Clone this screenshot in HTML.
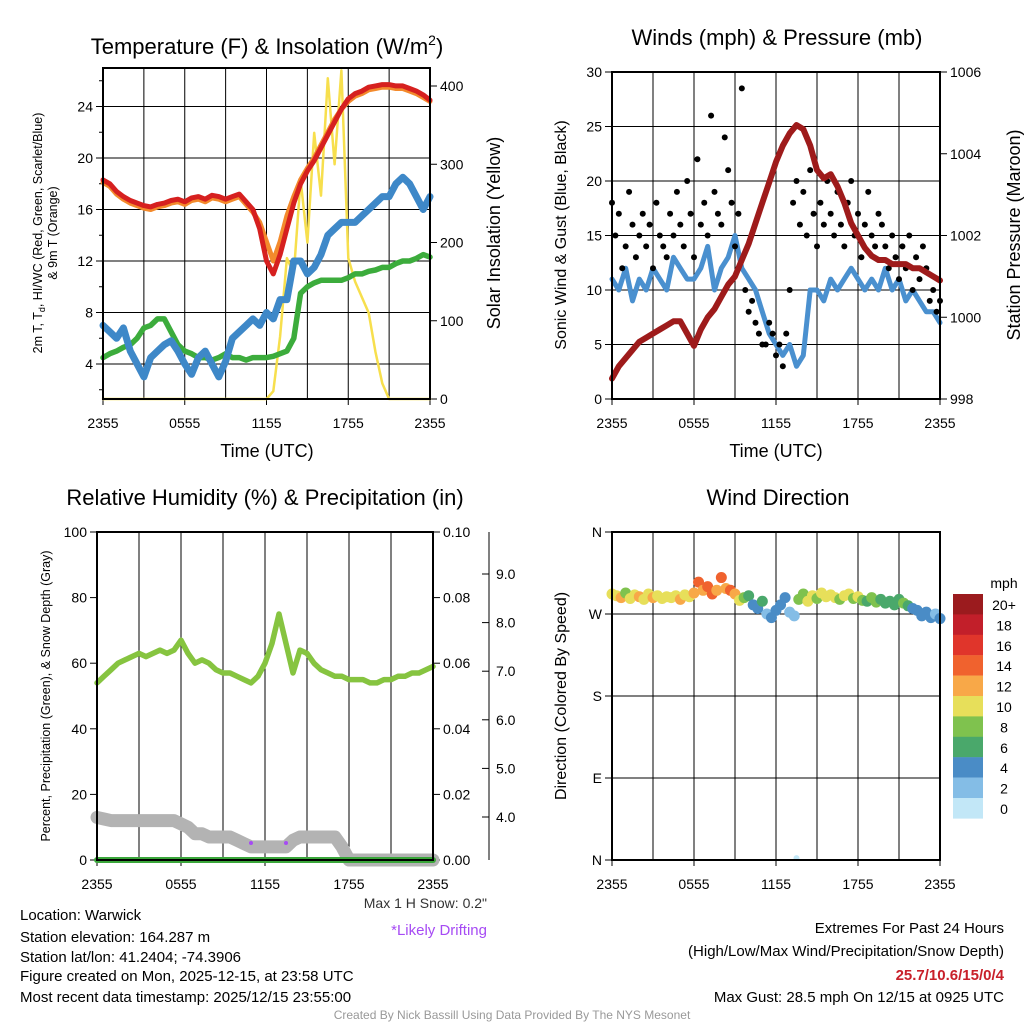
<!DOCTYPE html>
<html><head><meta charset="utf-8"><style>
html,body{margin:0;padding:0;background:#fff}
svg{display:block;font-family:"Liberation Sans",sans-serif}
</style></head><body>
<svg id="s" width="1024" height="1024" viewBox="0 0 1024 1024" xmlns="http://www.w3.org/2000/svg">
<rect width="1024" height="1024" fill="#fff"/>
<g id="p1">
<text x="267" y="54" font-size="22" text-anchor="middle">Temperature (F) &amp; Insolation (W/m<tspan font-size="14" dy="-9">2</tspan><tspan dy="9">)</tspan></text>
<text x="267" y="457" font-size="18" text-anchor="middle">Time (UTC)</text>
<text transform="translate(42,233) rotate(-90)" font-size="12.5" text-anchor="middle">2m T, T<tspan font-size="9" dy="3">d</tspan><tspan dy="-3">, HI/WC (Red, Green, Scarlet/Blue)</tspan></text>
<text transform="translate(57,233) rotate(-90)" font-size="12.5" text-anchor="middle">&amp; 9m T (Orange)</text>
<text transform="translate(500,233) rotate(-90)" font-size="18" text-anchor="middle">Solar Insolation (Yellow)</text>
</g>
<g id="p2">
<text x="777" y="45" font-size="22" text-anchor="middle">Winds (mph) &amp; Pressure (mb)</text>
<text x="776" y="457" font-size="18" text-anchor="middle">Time (UTC)</text>
<text transform="translate(566,235) rotate(-90)" font-size="16" text-anchor="middle">Sonic Wind &amp; Gust (Blue, Black)</text>
<text transform="translate(1020,235) rotate(-90)" font-size="18" text-anchor="middle">Station Pressure (Maroon)</text>
</g>
<g id="p3">
<text x="265" y="505" font-size="22" text-anchor="middle">Relative Humidity (%) &amp; Precipitation (in)</text>
<text transform="translate(50,696) rotate(-90)" font-size="12.5" text-anchor="middle">Percent, Precipitation (Green), &amp; Snow Depth (Gray)</text>
<text x="487" y="908" font-size="14" text-anchor="end" fill="#333">Max 1 H Snow: 0.2"</text>
<text x="487" y="935" font-size="15" text-anchor="end" fill="#a64bf4">*Likely Drifting</text>
</g>
<g id="p4">
<text x="778" y="505" font-size="22" text-anchor="middle">Wind Direction</text>
<text transform="translate(566,696) rotate(-90)" font-size="16" text-anchor="middle">Direction (Colored By Speed)</text>
<text x="1004" y="588" font-size="14" text-anchor="middle">mph</text>
</g>
<g font-size="15">
<text x="20" y="920">Location: Warwick</text>
<text x="20" y="942">Station elevation: 164.287 m</text>
<text x="20" y="962">Station lat/lon: 41.2404; -74.3906</text>
<text x="20" y="981">Figure created on Mon, 2025-12-15, at 23:58 UTC</text>
<text x="20" y="1002">Most recent data timestamp: 2025/12/15 23:55:00</text>
<text x="1004" y="933" text-anchor="end">Extremes For Past 24 Hours</text>
<text x="1004" y="956" text-anchor="end">(High/Low/Max Wind/Precipitation/Snow Depth)</text>
<text x="1004" y="980" text-anchor="end" fill="#c8202a" font-weight="bold">25.7/10.6/15/0/4</text>
<text x="1004" y="1002" text-anchor="end">Max Gust: 28.5 mph On 12/15 at 0925 UTC</text>
<text x="512" y="1019" font-size="12" text-anchor="middle" fill="#999">Created By Nick Bassill Using Data Provided By The NYS Mesonet</text>
</g>
</svg>
<script>
// ---- data (half-hourly from 2355 UTC) ----
const xTickLabels = ["2355","0555","1155","1755","2355"];
const tempRed = [18.3,18,17.4,17,16.7,16.5,16.3,16.2,16.4,16.5,16.7,16.8,16.6,16.9,17,16.8,17.1,17,16.8,17,17.2,16.6,16,14.5,12,11,12.5,14.5,16.5,18,19,19.8,20.8,21.8,22.8,23.8,24.6,25,25.2,25.5,25.6,25.7,25.7,25.6,25.6,25.4,25.2,24.9,24.5];
const tempOrange = [18.1,17.8,17.2,16.8,16.5,16.3,16.1,16,16.2,16.3,16.5,16.6,16.4,16.7,16.8,16.6,16.9,16.8,16.6,16.8,17,16.4,15.8,15,13.5,12,13.5,15.5,17,18.3,19.2,20,21,22,23,23.8,24.4,24.8,25,25.3,25.4,25.5,25.5,25.4,25.4,25.2,25,24.7,24.4];
const tempBlue = [7,6.5,6,6.8,5,4,3,4.5,5,5.5,5.8,5,4,3.2,4.5,5,4,3,4.2,6,6.5,7,7.5,7,8,7.5,9,9,12,12,11,11.5,12.5,14,14.5,15,15,15,15.5,16,16.5,17,17,18,18.5,18,17,16,17];
const dewGreen = [4.5,4.8,5,5.3,5.5,6,6.8,7,7.5,7.5,6.5,5.5,5,4.8,4.5,4.5,4.3,4.5,4.8,4.5,4.5,4.3,4.5,4.5,4.5,4.6,4.8,5,6,9.5,10,10.3,10.5,10.5,10.5,10.5,10.7,11,11,11.2,11.3,11.5,11.5,11.8,12,12,12.2,12.5,12.3];
const solar = [0,0,0,0,0,0,0,0,0,0,0,0,0,0,0,0,0,0,0,0,0,0,0,0,0,10,80,180,160,280,200,340,260,410,300,420,180,150,130,110,60,20,0,0,0,0,0,0,0];
const tempTicks = [4,8,12,16,20,24];
const solarTicks = [0,100,200,300,400];
const pressure = [998.5,998.8,999,999.2,999.4,999.5,999.6,999.7,999.8,999.9,999.9,999.6,999.3,999.7,1000,1000.2,1000.5,1000.8,1001,1001.4,1001.8,1002.3,1002.8,1003.3,1003.8,1004.2,1004.5,1004.7,1004.6,1004.2,1003.6,1003.4,1003.5,1003.2,1002.8,1002.3,1002,1001.7,1001.5,1001.4,1001.4,1001.3,1001.3,1001.3,1001.2,1001.2,1001.1,1001,1000.9];
const windSpeed = [11,10,12,9,11,10,12,11,10,13,12,11,11,12,14,10,12,13,15,12,11,10,8,6,5,4,5,3,4,10,10,9,11,10,11,12,11,10,11,10,12,10,11,9,10,9,8,8,7];
// gusts every 15 min
const gusts = [18,15,17,12,14,19,16,13,15,17,14,16,12,18,15,14,
13,17,15,19,16,14,20,17,13,22,16,18,15,26,19,17,
16,24,21,18,14,17,28.5,10,8,9,7,6,5,5,7,6,
4,5,3,6,10,18,20,16,19,15,21,17,14,18,16,20,
17,15,19,16,14,18,20,15,17,13,16,19,15,14,17,16,
14,12,15,13,11,14,12,15,10,13,11,14,12,9,10,8,9];
const windTicks = [0,5,10,15,20,25,30];
const pressureTicks = [998,1000,1002,1004,1006];
const rh = [54,56,58,60,61,62,63,62,63,64,63,64,67,63,60,61,60,58,57,57,56,55,54,56,60,66,75,66,57,64,63,60,58,57,56,56,55,55,55,54,54,55,55,56,56,57,57,58,59];
const snowDepth = [13,12.5,12,12,12,12,12,12,12,12,12,12,11,10,8,8,7,7,7,7,6,5,4,4,4,4,4,4,6,7,7,7,7,7,7,4,0,0,0,0,0,0,0,0,0,0,0,0,0];
const precip = [0,0,0,0,0,0,0,0,0,0,0,0,0,0,0,0,0,0,0,0,0,0,0,0,0,0,0,0,0,0,0,0,0,0,0,0,0,0,0,0,0,0,0,0,0,0,0,0,0];
const driftIdx = [22,27];
const rhTicks = [0,20,40,60,80,100];
const precipTicks = ["0.00","0.02","0.04","0.06","0.08","0.10"];
const snowTicks = ["4.0","5.0","6.0","7.0","8.0","9.0"];
// wind direction every 20 min
const windDir = [292,290,288,293,287,291,289,286,292,288,290,287,289,288,290,286,291,289,293,305,296,300,292,296,310,298,296,292,285,288,290,280,276,284,270,266,274,280,288,272,268,286,292,284,290,287,293,289,291,288,286,290,292,287,289,285,284,288,283,286,282,284,280,286,282,279,276,274,268,272,266,270,265];
const dirSpeed = [11,10,12,9,11,10,12,11,10,12,11,10,11,10,11,12,10,11,12,14,13,15,14,12,14,13,14,12,10,8,6,5,4,6,3,4,5,4,5,3,2,8,9,10,11,9,10,11,10,10,9,11,10,9,10,8,7,9,8,7,6,7,6,7,8,6,5,5,4,5,4,3,4];
const extraDirTime = [13.5];
const extraDir = [2];
const extraSpeed = [1];
const dirTicks = ["N","E","S","W","N"];
const speedLabels = ["20+","18","16","14","12","10","8","6","4","2","0"];
const speedColors = ["#9b1b1e","#c21f2a","#e0352b","#f0622e","#f8a848","#e7df5a","#7fc24e","#4aa86b","#4a8cc6","#84bde6","#c2e7f7"];

const NS="http://www.w3.org/2000/svg";
const svg=document.getElementById('s');
function mk(tag,attrs,parent){const e=document.createElementNS(NS,tag);for(const k in attrs)e.setAttribute(k,attrs[k]);(parent||svg).appendChild(e);return e;}

function frame(px,L,R,T,B,id){
  const g=document.getElementById(id);
  for(let k=1;k<8;k++){const x=L+(R-L)*k/8;
    const e=mk('line',{x1:x,x2:x,y1:T,y2:B,stroke:'#000','stroke-width':1},g);
    
    }
  xTickLabels.forEach((t,i)=>{const x=L+(R-L)*i/4;
    const tk=mk('line',{x1:x,x2:x,y1:B,y2:B+6,stroke:'#000'},g);
    
    
    const e=mk('text',{x:x,y:B+29,'font-size':14,'text-anchor':'middle'},g);e.textContent=t;
    
    });
}
function box(L,R,T,B,id){const g=document.getElementById(id);
  const e=mk('rect',{x:L,y:T,width:R-L,height:B-T,fill:'none',stroke:'#000','stroke-width':2},g);
  
  }
function line(g,xs,ys,color,w,name){
  const d=xs.map((x,i)=>(i?'L':'M')+x.toFixed(1)+','+ys[i].toFixed(1)).join('');
  const e=mk('path',{d:d,fill:'none',stroke:color,'stroke-width':w,'stroke-linejoin':'round','stroke-linecap':'round'},g);
  
  
  return e;}
function yTicks(g,vals,labels,yf,x,side){
  vals.forEach((v,i)=>{const y=yf(v);
    const t=mk('line',{x1:x,x2:x+(side<0?-7:7),y1:y,y2:y,stroke:'#000'},g);
    
    
    const e=mk('text',{x:x+(side<0?-10:10),y:y+5,'font-size':14,'text-anchor':side<0?'end':'start'},g);
    e.textContent=labels[i];
    
    });}

// ---- Panel 1 ----
{const L=103,R=430,T=68,B=399,g=document.getElementById('p1');
 const x=i=>L+(R-L)*i/48;
 const yT=v=>364-(v-4)*51.5/4;
 const yS=v=>399-v*0.7825;
 frame(0,L,R,T,B,'p1');
 tempTicks.forEach(v=>{const e=mk('line',{x1:L,x2:R,y1:yT(v),y2:yT(v),stroke:'#000'},g);
   
   });
 for(let v=2;v<=26;v+=2){if(v%4){const m=mk('line',{x1:L,x2:L-4,y1:yT(v),y2:yT(v),stroke:'#000'},g);
   
   }}
 yTicks(g,tempTicks,tempTicks.map(String),yT,L,-1);
 yTicks(g,solarTicks,solarTicks.map(String),yS,R,1);
 const xs=solar.map((_,i)=>x(i));
 line(g,xs,solar.map(yS),'#f7df4d',2.5,'solar-insolation-line');
 line(g,xs,dewGreen.map(yT),'#3cac3c',5.5,'dewpoint-line');
 line(g,xs,tempBlue.map(yT),'#3e88c8',7,'wind-chill-line');
 line(g,xs,tempOrange.map(yT),'#f38a2c',5,'9m-temperature-line');
 line(g,xs,tempRed.map(yT),'#d6201f',5,'2m-temperature-line');
 box(L,R,T,B,'p1');}

// ---- Panel 2 ----
{const L=612,R=940,T=72,B=399,g=document.getElementById('p2');
 const x=i=>L+(R-L)*i/48;
 const yW=v=>399-v*327/30;
 const yP=v=>399-(v-998)*327/8;
 frame(0,L,R,T,B,'p2');
 windTicks.forEach(v=>{const e=mk('line',{x1:L,x2:R,y1:yW(v),y2:yW(v),stroke:'#000'},g);
   
   });
 yTicks(g,windTicks,windTicks.map(String),yW,L,-1);
 yTicks(g,pressureTicks,pressureTicks.map(String),yP,R,1);
 const xs=windSpeed.map((_,i)=>x(i));
 line(g,xs,windSpeed.map(yW),'#4a90cf',5,'sonic-wind-line');
 gusts.forEach((v,i)=>{const c=mk('circle',{cx:L+(R-L)*i/96,cy:yW(v),r:3,fill:'#000'},g);
   
   });
 line(g,xs,pressure.map(yP),'#9e1b1b',6,'pressure-line');
 box(L,R,T,B,'p2');}

// ---- Panel 3 ----
{const L=97,R=433,T=532,B=860,g=document.getElementById('p3');
 const x=i=>L+(R-L)*i/48;
 const yR=v=>860-v*3.28;
 frame(0,L,R,T,B,'p3');
 yTicks(g,rhTicks,rhTicks.map(String),yR,L,-1);
 yTicks(g,rhTicks,precipTicks,yR,R,1);
 const ax=mk('line',{x1:489,x2:489,y1:532,y2:860,stroke:'#000'},g);
 
 
 snowTicks.forEach((t,i)=>{const y=817-i*48.6;
   const tk=mk('line',{x1:489,x2:482,y1:y,y2:y,stroke:'#000'},g);
   
   
   const e=mk('text',{x:496,y:y+5,'font-size':14},g);e.textContent=t;
   
   });
 const xs=rh.map((_,i)=>x(i));
 line(g,xs,rh.map(yR),'#86c440',5.5,'relative-humidity-line');
 line(g,xs,snowDepth.map(yR),'#b3b3b3',13,'snow-depth-line');
 line(g,xs,precip.map(v=>yR(v*1000)),'#3aa63a',6,'precipitation-line');
 driftIdx.forEach(i=>{const c=mk('circle',{cx:x(i),cy:843,r:2,fill:'#a64bf4'},g);
   
   });
 box(L,R,T,B,'p3');}

// ---- Panel 4 ----
{const L=612,R=940,T=532,B=860,g=document.getElementById('p4');
 const yD=v=>860-v*328/360;
 frame(0,L,R,T,B,'p4');
 [0,90,180,270,360].forEach((v,i)=>{
   if(i>0&&i<4){const e=mk('line',{x1:L,x2:R,y1:yD(v),y2:yD(v),stroke:'#000'},g);
   
   }});
 yTicks(g,[0,90,180,270,360],dirTicks,yD,L,-1);
 const col=s=>speedColors[10-Math.max(0,Math.min(10,Math.floor(s/2)))];
 windDir.forEach((d,i)=>{const c=mk('circle',{cx:L+(R-L)*i/72,cy:yD(d),r:5.5,fill:col(dirSpeed[i])},g);
   
   });
 extraDir.forEach((d,i)=>{const c=mk('circle',{cx:L+(R-L)*extraDirTime[i]/24,cy:yD(d),r:3,fill:col(extraSpeed[i])},g);
   
   });
 box(L,R,T,B,'p4');
 speedLabels.forEach((t,i)=>{const y=594+i*20.4;
   const r=mk('rect',{x:953,y:y,width:30,height:20.6,fill:speedColors[i]},g);
   
   
   const e=mk('text',{x:1004,y:y+16,'font-size':14,'text-anchor':'middle'},g);e.textContent=t;
   
   });}
</script>
</body></html>
